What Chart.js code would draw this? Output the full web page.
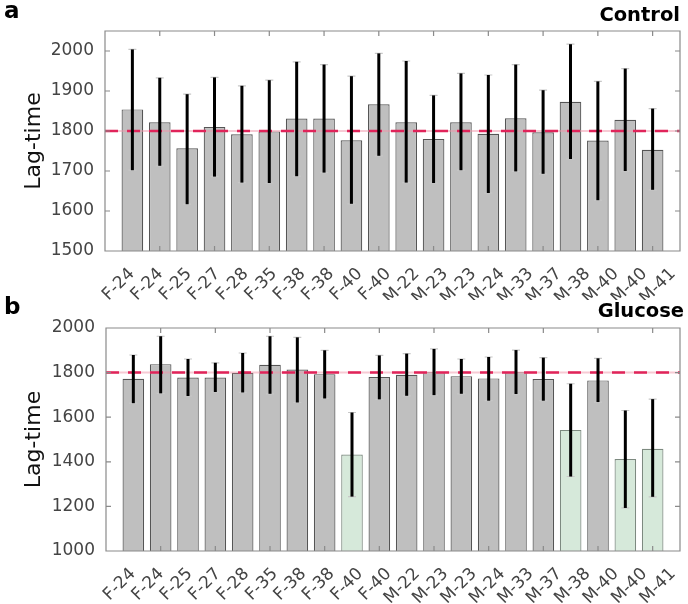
<!DOCTYPE html>
<html>
<head>
<meta charset="utf-8">
<script src="https://cdn.jsdelivr.net/npm/chart.js@4"></script>
<style>
  body { margin: 0; background: #fff; width: 688px; height: 604px; position: relative; overflow: hidden; }
  .panel { position: absolute; left: 0; width: 688px; }
  .tag { position: absolute; font-family: "DejaVu Sans", sans-serif; font-weight: bold; color: #000; }
</style>
</head>
<body>
<div class="panel" style="top:0;height:300px"><canvas id="chartA" data-panel="a"></canvas></div>
<div class="panel" style="top:295px;height:309px"><canvas id="chartB" data-panel="b"></canvas></div>
<div class="tag" style="left:4px;top:-3px;font-size:23px">a</div>
<div class="tag" style="right:8px;top:3px;font-size:19.5px">Control</div>
<div class="tag" style="left:4px;top:293px;font-size:23px">b</div>
<div class="tag" style="right:4px;top:299px;font-size:19.5px">Glucose</div>
<script>
// sample labels (one bar each)
const labels = ['F-24', 'F-24', 'F-25', 'F-27', 'F-28', 'F-35', 'F-38', 'F-38', 'F-40', 'F-40',
    'M-22', 'M-23', 'M-23', 'M-24', 'M-33', 'M-37', 'M-38', 'M-40', 'M-40', 'M-41'];

// panel a - control
const controlMean = [1854, 1822, 1757, 1810, 1792, 1799, 1831, 1831, 1777, 1867,
    1822, 1780, 1822, 1793, 1832, 1797, 1873, 1776, 1828, 1753];
const controlHigh = [2004, 1933, 1892, 1934, 1913, 1927, 1973, 1966, 1937, 1994,
    1975, 1889, 1944, 1940, 1966, 1902, 2017, 1924, 1956, 1856];
const controlLow = [1702, 1713, 1617, 1686, 1671, 1670, 1687, 1696, 1618, 1738,
    1671, 1670, 1702, 1645, 1699, 1693, 1730, 1627, 1700, 1653];

// panel b - glucose
const glucoseMean = [1772, 1838, 1778, 1778, 1799, 1835, 1814, 1793, 1433, 1780,
    1790, 1802, 1784, 1774, 1802, 1771, 1543, 1765, 1412, 1458];
const glucoseHigh = [1879, 1963, 1861, 1844, 1888, 1963, 1958, 1900, 1621, 1877,
    1885, 1906, 1861, 1870, 1901, 1867, 1750, 1864, 1630, 1681];
const glucoseLow = [1663, 1707, 1695, 1713, 1711, 1705, 1666, 1684, 1244, 1680,
    1696, 1699, 1705, 1674, 1704, 1674, 1334, 1668, 1193, 1243];
// samples whose lag-time dropped under glucose
const glucoseShifted = [false, false, false, false, false, false, false, false, true, false,
    false, false, false, false, false, false, true, false, true, true];

const refValue = 1800;

const GRAY = '#bfbfbf';
const GREEN = '#d6e9da';

const errorBars = {
    a: { low: controlLow, high: controlHigh, step: 100 },
    b: { low: glucoseLow, high: glucoseHigh, step: 200 }
};

// error bars + box + inward ticks
const decorPlugin = {
    id: 'decor',
    afterDraw(chart) {
        const e = errorBars[chart.canvas.dataset.panel];
        const ctx = chart.ctx;
        const xs = chart.scales.x, ys = chart.scales.y;
        const a = chart.chartArea;
        ctx.save();
        ctx.setLineDash([]);
        e.low.forEach((lo, i) => {
            const x = xs.getPixelForValue(i + 1);
            const yTop = ys.getPixelForValue(e.high[i]);
            const yBot = ys.getPixelForValue(lo);
            ctx.strokeStyle = '#c8c8c8';
            ctx.lineWidth = 1.2;
            ctx.beginPath();
            ctx.moveTo(x - 4, yTop); ctx.lineTo(x + 4, yTop);
            ctx.moveTo(x - 4, yBot); ctx.lineTo(x + 4, yBot);
            ctx.stroke();
            ctx.strokeStyle = '#000';
            ctx.lineWidth = 3;
            ctx.beginPath();
            ctx.moveTo(x, yTop); ctx.lineTo(x, yBot);
            ctx.stroke();
        });
        ctx.strokeStyle = '#8a8a8a';
        ctx.lineWidth = 1.2;
        ctx.beginPath();
        ctx.rect(a.left, a.top, a.right - a.left, a.bottom - a.top);
        for (let v = 2; v <= labels.length; v += 2) {
            const x = xs.getPixelForValue(v);
            ctx.moveTo(x, a.top); ctx.lineTo(x, a.top + 5);
            ctx.moveTo(x, a.bottom); ctx.lineTo(x, a.bottom - 5);
        }
        for (let v = ys.min; v <= ys.max; v += e.step) {
            const y = ys.getPixelForValue(v);
            ctx.moveTo(a.left, y); ctx.lineTo(a.left + 5, y);
            ctx.moveTo(a.right, y); ctx.lineTo(a.right - 5, y);
        }
        ctx.stroke();
        ctx.restore();
    }
};

function makeChart(id, mean, colors, yMin, yMax, step, yWidth, xHeight, top) {
    const points = mean.map((v, i) => ({ x: i + 1, y: v }));
    const refLine = [{ x: 0, y: refValue }, { x: labels.length + 1, y: refValue }];
    return new Chart(document.getElementById(id), {
        type: 'bar',
        data: {
            datasets: [{
                type: 'line',
                data: refLine,
                borderColor: '#e0245a',
                borderWidth: 2.5,
                borderDash: [13, 9],
                pointRadius: 0,
                order: 0
            }, {
                type: 'line',
                data: refLine,
                borderColor: 'rgba(240, 150, 170, 0.5)',
                borderWidth: 2,
                pointRadius: 0,
                order: 1
            }, {
                type: 'bar',
                data: points,
                backgroundColor: colors.map(c => c ? GREEN : GRAY),
                borderColor: colors.map(c => c ? '#7d8a80' : '#555555'),
                borderWidth: 1.2,
                barPercentage: 0.79,
                categoryPercentage: 1,
                order: 2
            }]
        },
        options: {
            responsive: true,
            maintainAspectRatio: false,
            animation: false,
            layout: { padding: { top: top, right: 8, left: 0, bottom: 0 } },
            plugins: {
                legend: { display: false },
                tooltip: { enabled: false }
            },
            scales: {
                x: {
                    type: 'linear',
                    min: 0,
                    max: labels.length + 1,
                    offset: false,
                    display: false
                },
                // label axis: the printed labels are spaced slightly wider than the bars
                xl: {
                    type: 'linear',
                    position: 'bottom',
                    min: 0.052,
                    max: 20.248,
                    offset: false,
                    grid: { display: false },
                    border: { display: false },
                    afterFit: s => { s.height = xHeight; s.paddingLeft = 0; s.paddingRight = 0; },
                    ticks: {
                        stepSize: 1,
                        includeBounds: false,
                        autoSkip: false,
                        minRotation: 45,
                        maxRotation: 45,
                        padding: 5,
                        color: '#444',
                        font: { family: 'DejaVu Sans', size: 17 },
                        callback: v => labels[v - 1] || ''
                    }
                },
                y: {
                    min: yMin,
                    max: yMax,
                    grid: { display: false },
                    border: { display: false },
                    afterFit: s => { s.width = yWidth; s.paddingTop = 0; s.paddingBottom = 0; },
                    title: {
                        display: true,
                        text: 'Lag-time',
                        color: '#111',
                        font: { family: 'DejaVu Sans', size: 22 },
                        padding: { top: 21 }
                    },
                    ticks: {
                        stepSize: step,
                        padding: 3,
                        color: '#444',
                        font: { family: 'DejaVu Sans', size: 17 },
                        callback: v => (v % step === 0 ? v : '')
                    }
                }
            }
        },
        plugins: [decorPlugin]
    });
}

makeChart('chartA', controlMean, labels.map(() => false), 1500, 2050, 100, 105, 49, 31);
makeChart('chartB', glucoseMean, glucoseShifted, 1000, 2000, 200, 106, 53, 33);
</script>
</body>
</html>
